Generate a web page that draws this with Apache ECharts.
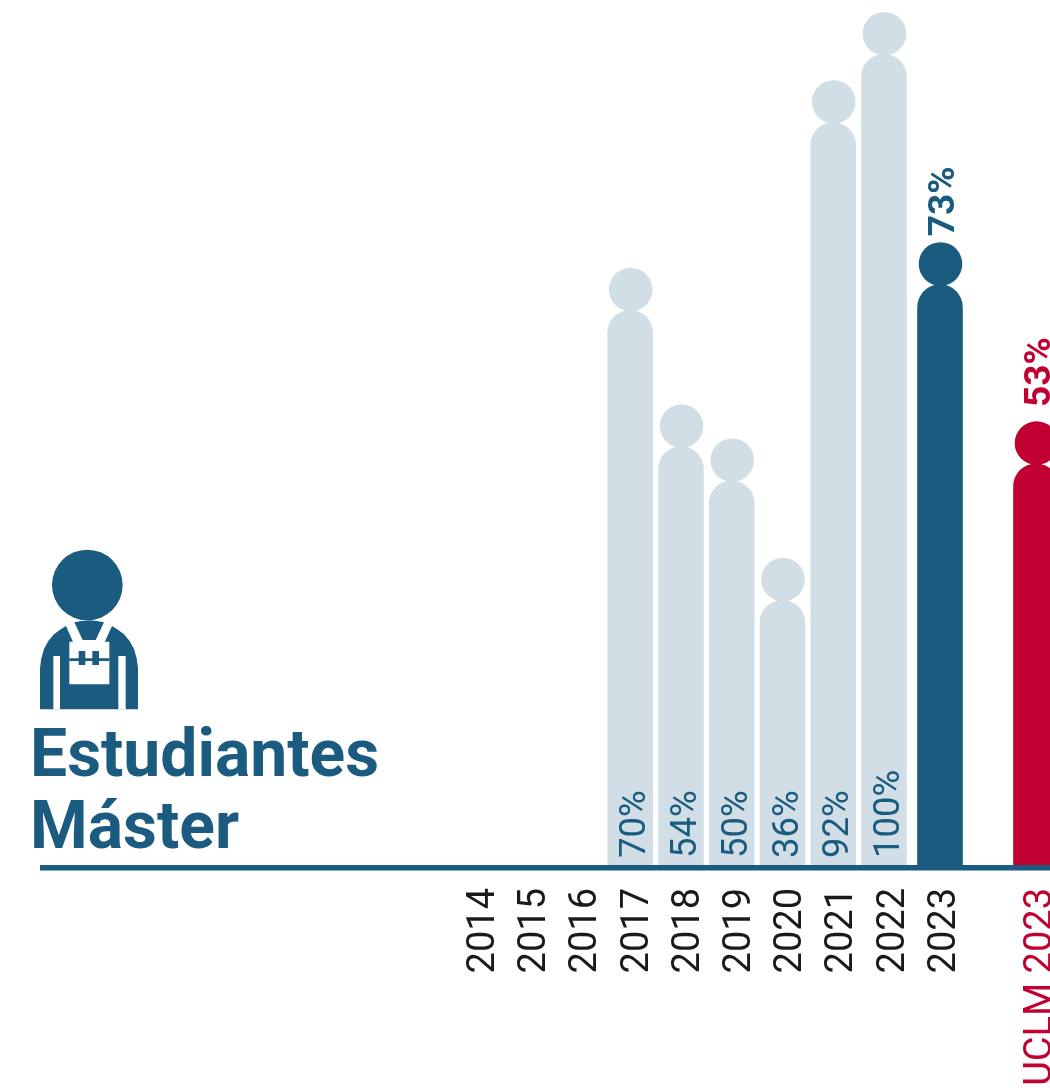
<!DOCTYPE html>
<html>
<head>
<meta charset="utf-8">
<title>Estudiantes Máster</title>
<style>
  html, body { margin: 0; padding: 0; background: #fff; overflow: hidden; }
  #main { width: 1050px; height: 1090px; }
</style>
<script src="https://cdn.jsdelivr.net/npm/echarts@6/dist/echarts.min.js"></script>
</head>
<body>
<div id="main"></div>
<script>
const yearLabels = ['2014', '2015', '2016', '2017', '2018', '2019', '2020', '2021', '2022', '2023'];
const uclmLabel = ['UCLM 2023'];
const pastYears = ['2014', '2015', '2016', '2017', '2018', '2019', '2020', '2021', '2022'];
const pastValues = [null, null, null, 70, 54, 50, 36, 92, 100];
const currentNames = ['2023', 'UCLM 2023'];
const currentValues = [73, 52];
const currentLabels = [73, 53];

const BLUE = '#1a5b7f';
const PALE = '#d1dee6';
const RED = '#bf0030';
const FONT = 'Roboto';

var chart = echarts.init(document.getElementById('main'));

// cuerpo + cabeza de cada "persona"
function personShape(api, color, x, top, base) {
  return [
    {
      type: 'circle',
      shape: { cx: x + 0.5, cy: top + 21.7, r: 21.8 },
      style: { fill: color }
    },
    {
      type: 'rect',
      shape: { x: x - 22.8, y: top + 42, width: 45.6, height: base - top - 42, r: [22.8, 22.8, 0, 0] },
      style: { fill: color }
    }
  ];
}

function renderPast(params, api) {
  var val = api.value(1);
  var top = api.coord([api.value(0), val]);
  var base = api.coord([api.value(0), 0]);
  var children = personShape(api, PALE, top[0], top[1], base[1]);
  children.push({
    type: 'text',
    x: top[0] + 6,
    y: base[1] - 7,
    rotation: Math.PI / 2,
    style: {
      text: val + '%',
      font: '400 36.5px ' + FONT,
      fill: BLUE,
      align: 'left',
      verticalAlign: 'middle'
    }
  });
  return { type: 'group', children: children };
}

function renderCurrent(params, api) {
  var top = api.coord([api.value(0), api.value(1)]);
  var base = api.coord([api.value(0), 0]);
  var label = currentLabels[params.dataIndex];
  var labelAt = api.coord([api.value(0), label]);
  var color = params.dataIndex === 0 ? BLUE : RED;
  var children = personShape(api, color, top[0], top[1], base[1]);
  children.push({
    type: 'text',
    x: top[0] + 5,
    y: labelAt[1] - 6,
    rotation: Math.PI / 2,
    style: {
      text: label + '%',
      font: '700 37px ' + FONT,
      fill: color,
      align: 'left',
      verticalAlign: 'middle'
    }
  });
  return { type: 'group', children: children };
}

function hiddenY(gridIndex) {
  return { type: 'value', gridIndex: gridIndex, min: 0, max: 100, show: false };
}

function labelAxis(gridIndex, names, color) {
  return {
    type: 'category',
    gridIndex: gridIndex,
    data: names,
    axisLine: { show: false },
    axisTick: { show: false },
    axisLabel: {
      interval: 0,
      rotate: 90,
      margin: 23,
      color: color,
      fontFamily: FONT,
      fontSize: 38,
      hideOverlap: false
    }
  };
}

var option = {
  animation: false,
  backgroundColor: '#fff',
  title: {
    text: 'Estudiantes\nMáster',
    left: 25,
    top: 718,
    textStyle: { fontFamily: FONT, fontSize: 66, fontWeight: 700, color: BLUE, lineHeight: 72 }
  },
  grid: [
    { left: 458.9, width: 512, top: 12, height: 853 },
    { left: 1041, width: 3, top: 12, height: 853 },
    { left: 452.6, width: 456.75, top: 12, height: 853 },
    { left: 940, width: 96, top: 12, height: 853 }
  ],
  xAxis: [
    labelAxis(0, yearLabels, '#1a1a1a'),
    labelAxis(1, uclmLabel, RED),
    { type: 'category', gridIndex: 2, data: pastYears, show: false },
    { type: 'category', gridIndex: 3, data: currentNames, show: false, boundaryGap: false }
  ],
  yAxis: [hiddenY(0), hiddenY(1), hiddenY(2), hiddenY(3)],
  series: [
    {
      type: 'custom',
      name: 'Histórico',
      xAxisIndex: 2,
      yAxisIndex: 2,
      renderItem: renderPast,
      encode: { x: 0, y: 1 },
      data: pastValues.map(function(v, i) { return [pastYears[i], v]; }).filter(function(d) { return d[1] !== null; })
    },
    {
      type: 'custom',
      name: '2023',
      xAxisIndex: 3,
      yAxisIndex: 3,
      renderItem: renderCurrent,
      encode: { x: 0, y: 1 },
      data: currentValues.map(function(v, i) { return [currentNames[i], v]; })
    }
  ],
  graphic: {
    elements: [
      {
        type: 'rect',
        silent: true,
        z: 10,
        shape: { x: 40, y: 865, width: 1010, height: 5.6 },
        style: { fill: BLUE }
      },
      {
        type: 'group',
        silent: true,
        x: 30,
        y: 545,
        scaleX: 1 / 3,
        scaleY: 1 / 3,
        children: [
          { type: 'circle', shape: { cx: 172, cy: 120, r: 106 }, style: { fill: BLUE } },
          {
            type: 'polygon',
            shape: {
              points: [[108, 243], [90, 254], [72, 268], [55, 288], [42, 312], [34, 340], [30, 370], [30, 493],
                [324, 493], [324, 370], [320, 340], [312, 312], [299, 288], [282, 268], [264, 254], [246, 243],
                [220, 300], [133, 300]]
            },
            style: { fill: BLUE }
          },
          { type: 'rect', shape: { x: 70, y: 333, width: 20, height: 160 }, style: { fill: '#fff' } },
          { type: 'rect', shape: { x: 265, y: 333, width: 22, height: 160 }, style: { fill: '#fff' } },
          { type: 'rect', shape: { x: 118, y: 290, width: 120, height: 128 }, style: { fill: '#fff' } },
          { type: 'rect', shape: { x: 118, y: 340, width: 120, height: 8 }, style: { fill: BLUE } },
          { type: 'rect', shape: { x: 146, y: 318, width: 20, height: 42 }, style: { fill: BLUE } },
          { type: 'rect', shape: { x: 187, y: 318, width: 20, height: 42 }, style: { fill: BLUE } },
          {
            type: 'polygon',
            shape: { points: [[133, 232], [155, 228], [178, 226], [200, 228], [222, 232], [197, 285], [158, 285]] },
            style: { fill: BLUE }
          }
        ]
      }
    ]
  }
};

chart.setOption(option);
</script>
</body>
</html>
